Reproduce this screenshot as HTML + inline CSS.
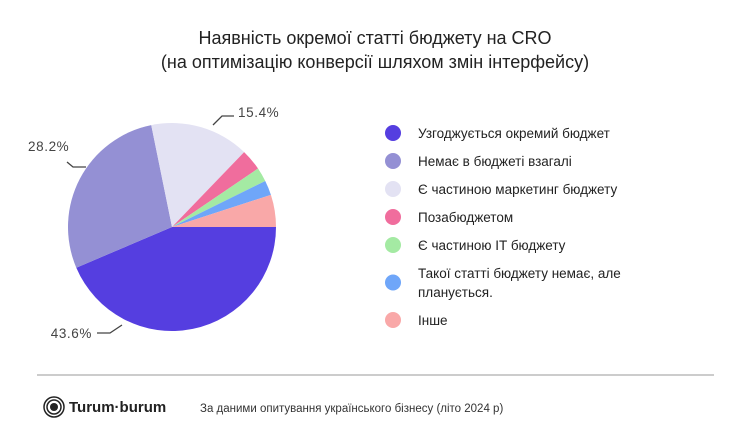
<!DOCTYPE html>
<html><head><meta charset="utf-8"><style>
body{margin:0;background:#fff;}
svg{display:block;font-family:"Liberation Sans","DejaVu Sans",sans-serif;}
</style></head><body>
<svg width="750" height="444" viewBox="0 0 750 444">
<rect width="750" height="444" fill="#fff"/>
<text x="375" y="44" text-anchor="middle" font-size="18" fill="#222">Наявність окремої статті бюджету на CRO</text>
<text x="375" y="68" text-anchor="middle" font-size="18" fill="#222">(на оптимізацію конверсії шляхом змін інтерфейсу)</text>
<g id="pie"></g>
<g id="legend"></g>
<line x1="37" y1="375" x2="714" y2="375" stroke="#999" stroke-width="1"/>
<g>
<circle cx="54" cy="407" r="10" fill="none" stroke="#222" stroke-width="1.5"/>
<circle cx="54" cy="407" r="7" fill="none" stroke="#222" stroke-width="1.5"/>
<circle cx="54" cy="407" r="4" fill="#222"/>
<text x="69" y="412" font-size="15" font-weight="bold" fill="#222">Turum·burum</text>
</g>
<text x="200" y="412" font-size="11.5" fill="#333">За даними опитування українського бізнесу (літо 2024 р)</text>
</svg>
<script>
const categories=["Узгоджується окремий бюджет","Немає в бюджеті взагалі","Є частиною маркетинг бюджету","Позабюджетом","Є частиною IT бюджету","Такої статті бюджету немає, але|планується.","Інше"];
const values=[43.6,28.2,15.4,3.3,2.2,2.3,5.0];
const colors=["#553ee0","#9490d4","#e3e2f3","#f06d9d","#a4eaa3","#6fa6f9","#f9a8a8"];
const labelShown=[true,true,true,false,false,false,false];
const NS="http://www.w3.org/2000/svg";
const cx=172,cy=227,r=104;
// label layout (leader polylines + text anchor), not data
const labelLayout={
  0:{pts:[[122,325],[110,333],[97,333]],tx:92,ty:338,anchor:'end'},
  1:{pts:[[86,167],[73,167],[67,162]],tx:28,ty:151,anchor:'start'},
  2:{pts:[[213,125],[222,116],[234,116]],tx:238,ty:117,anchor:'start'}
};
const pie=document.getElementById('pie');
const total=values.reduce((a,b)=>a+b,0);
function pt(a,rr){return [cx+rr*Math.cos(a),cy+rr*Math.sin(a)];}
let a0=0;
values.forEach((v,i)=>{
  const a1=a0+v/total*2*Math.PI;
  const p0=pt(a0,r),p1=pt(a1,r);
  const large=(a1-a0)>Math.PI?1:0;
  const path=document.createElementNS(NS,'path');
  path.setAttribute('d',`M${cx},${cy}L${p0[0]},${p0[1]}A${r},${r} 0 ${large} 1 ${p1[0]},${p1[1]}Z`);
  path.setAttribute('fill',colors[i]);
  
  
  pie.appendChild(path);
  if(labelShown[i]&&labelLayout[i]){
    const L=labelLayout[i];
    const ln=document.createElementNS(NS,'polyline');
    ln.setAttribute('points',L.pts.map(p=>p.join(',')).join(' '));
    ln.setAttribute('fill','none');ln.setAttribute('stroke','#444');ln.setAttribute('stroke-width','1.3');
    
    
    pie.appendChild(ln);
    const t=document.createElementNS(NS,'text');
    t.setAttribute('x',L.tx);t.setAttribute('y',L.ty);
    t.setAttribute('text-anchor',L.anchor);
    t.setAttribute('font-size','13.5');t.setAttribute('fill','#444');
    t.setAttribute('letter-spacing','0.6');
    t.textContent=values[i].toFixed(1)+'%';
    
    
    pie.appendChild(t);
  }
  a0=a1;
});
const leg=document.getElementById('legend');
let y=133;
categories.forEach((c,i)=>{
  const lines=c.split('|');
  const ym=y+(lines.length-1)*9.5;
  const g=document.createElementNS(NS,'g');
  
  
  const ci=document.createElementNS(NS,'circle');
  ci.setAttribute('cx',393);ci.setAttribute('cy',ym);ci.setAttribute('r',8);ci.setAttribute('fill',colors[i]);
  g.appendChild(ci);
  lines.forEach((l,k)=>{
    const t=document.createElementNS(NS,'text');
    t.setAttribute('x',418);t.setAttribute('y',y+5+k*19);
    t.setAttribute('font-size','13.5');t.setAttribute('fill','#222');
    t.textContent=l;g.appendChild(t);
  });
  leg.appendChild(g);
  y+=28+(lines.length-1)*19;
});
</script>
</body></html>
